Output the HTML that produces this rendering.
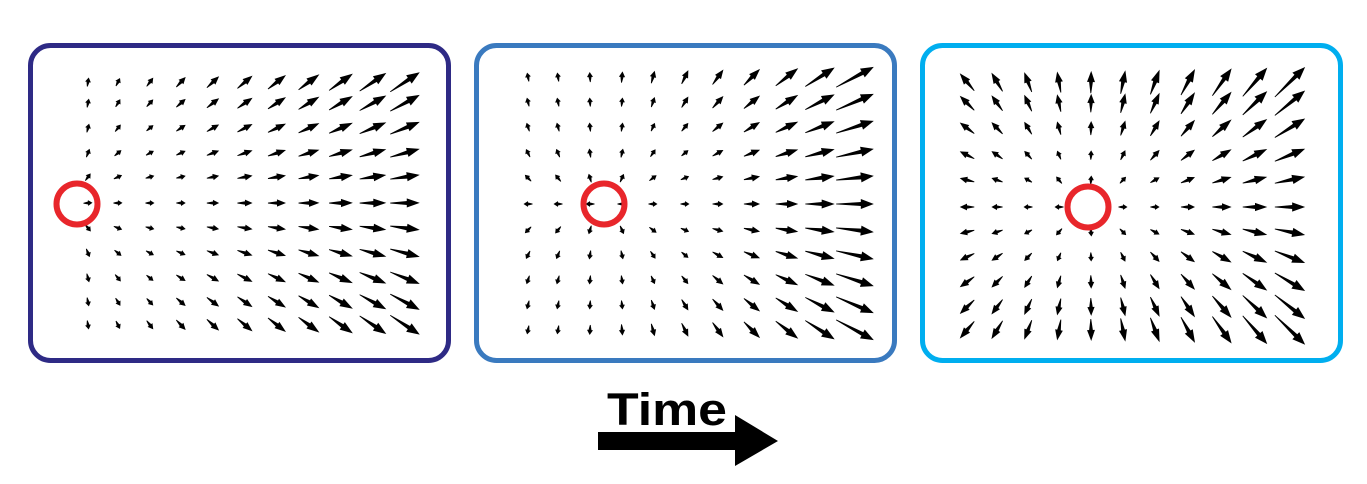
<!DOCTYPE html>
<html><head><meta charset="utf-8"><style>
html,body{margin:0;padding:0;background:#fff;}
svg{display:block}
</style></head><body>
<svg id="fig" width="1367" height="484" viewBox="0 0 1367 484">
  <rect x="30.5" y="45.5" width="418" height="315" rx="20" fill="none" stroke="#2e2a85" stroke-width="5"/>
  <rect x="476.5" y="45.5" width="418" height="315" rx="20" fill="none" stroke="#3a7abf" stroke-width="5"/>
  <rect x="922.5" y="45.5" width="418" height="315" rx="20" fill="none" stroke="#00aeef" stroke-width="5"/>
  <g id="arrows"></g>
  <g id="circles"></g>
  <text x="607" y="425" font-family="Liberation Sans, sans-serif" font-weight="bold" font-size="45" textLength="120" lengthAdjust="spacingAndGlyphs">Time</text>
  <polygon points="598,432 735,432 735,415 778,441 735,466 735,450 598,450" fill="#000"/>
</svg>
<script>
// panel layout data
const panelCols = [[88,118,150,181,213,245,277,309,341,373,405],[528,558,590,622,653,685,718,752,787,820,855],[967,997,1028,1059,1091,1123,1155,1188,1222,1255,1290]];
const panelRows = [[82,103,128,153,177,203,228,253,278,302,325],[77,102,127,153,178,204,230,255,280,305,330],[82,103,128,155,180,207,232,257,282,307,330]];
const sourceX = [77,604,1088];
const sourceY = [204,204,207];
// gain of field left side / right side, horizontal and vertical
const kxLeft = [0.09,0.02,0.12];
const kxRight = [0.09,0.15,0.15];
const kyLeft = [0.05,0.06,0.14];
const kyRight = [0.16,0.16,0.24];

const NS='http://www.w3.org/2000/svg';
const ag=document.getElementById('arrows');
const cg=document.getElementById('circles');
for(let p=0;p<3;p++){
  const cols=panelCols[p], rows=panelRows[p];
  const cx=sourceX[p], cy=sourceY[p];
  const dmin=cols[0]-cx, dmax=cols[cols.length-1]-cx;
  for(const x of cols){
    for(const y of rows){
      const dx=x-cx, dy=y-cy;
      if(Math.abs(dx)<4&&Math.abs(dy)<4){continue;}
      const t=Math.max(0,Math.min(1,(dx-dmin)/(dmax-dmin)));
      let vx=dx*(kxLeft[p]+(kxRight[p]-kxLeft[p])*t);
      let vy=dy*(kyLeft[p]+(kyRight[p]-kyLeft[p])*t);
      let L=Math.hypot(vx,vy);
      if(L<1e-6)continue;
      const ux=vx/L, uy=vy/L;
      if(L<9)L=9;
      const x0=x-ux*L/2, y0=y-uy*L/2, x1=x+ux*L/2, y1=y+uy*L/2;
      const hl=Math.min(13,L*0.5), hw=Math.min(5,2.2+L*0.08);
      const bx=x1-ux*hl, by=y1-uy*hl;
      const g=document.createElementNS(NS,'g');
      
      
      const ln=document.createElementNS(NS,'polygon');
      const sw=Math.min(1.6,0.8+L*0.03);
      ln.setAttribute('points',`${x0},${y0} ${bx-uy*sw},${by+ux*sw} ${bx+uy*sw},${by-ux*sw}`);
      ln.setAttribute('fill','#000');
      ln.setAttribute('stroke','#000');ln.setAttribute('stroke-width',0.8);
      const hd=document.createElementNS(NS,'polygon');
      hd.setAttribute('points',`${x1},${y1} ${bx-uy*hw},${by+ux*hw} ${bx+uy*hw},${by-ux*hw}`);
      hd.setAttribute('fill','#000');
      g.appendChild(ln);g.appendChild(hd);ag.appendChild(g);
    }
  }
  const c=document.createElementNS(NS,'circle');
  
  
  c.setAttribute('cx',cx);c.setAttribute('cy',cy);c.setAttribute('r',20.5);
  c.setAttribute('fill','none');c.setAttribute('stroke','#e8262b');c.setAttribute('stroke-width',6);
  cg.appendChild(c);
}
</script>
</body></html>
